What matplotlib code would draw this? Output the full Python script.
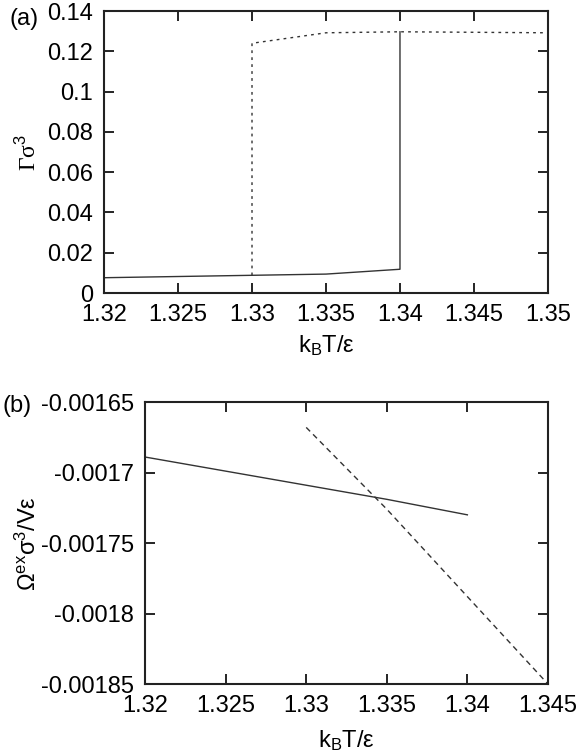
import matplotlib
matplotlib.use('Agg')
import matplotlib.pyplot as plt

plt.rcParams['font.family'] = ['Liberation Sans', 'DejaVu Sans']
plt.rcParams['mathtext.fontset'] = 'custom'
plt.rcParams['mathtext.rm'] = 'Liberation Sans'
plt.rcParams['mathtext.it'] = 'Liberation Sans'

FS = 17

# panel (a): adsorption vs temperature
t_a_solid = [1.32, 1.33, 1.335, 1.34, 1.34]
g_a_solid = [0.0076, 0.0088, 0.0094, 0.0118, 0.1297]
t_a_dash = [1.33, 1.33, 1.335, 1.34, 1.35]
g_a_dash = [0.0088, 0.124, 0.1292, 0.1297, 0.1292]

# panel (b): excess grand potential
t_b_solid = [1.32, 1.325, 1.33, 1.335, 1.34]
w_b_solid = [-0.001689, -0.001699, -0.001709, -0.001719, -0.00173]
t_b_dash = [1.33, 1.335, 1.34, 1.345]
w_b_dash = [-0.001668, -0.001726, -0.001788, -0.00185]

fig = plt.figure(figsize=(5.78, 7.56), dpi=100)

ax1 = fig.add_axes([0.180, 0.6124, 0.768, 0.373])
ax1.plot(t_a_solid, g_a_solid, color='#333333', lw=1.0)
ax1.plot(t_a_dash, g_a_dash, color='#333333', lw=1.0, ls=(0, (2, 3)))
ax1.set_xlim(1.32, 1.35)
ax1.set_ylim(0, 0.14)
ax1.set_xticks([1.32, 1.325, 1.33, 1.335, 1.34, 1.345, 1.35])
ax1.set_xticklabels(['1.32', '1.325', '1.33', '1.335', '1.34', '1.345', '1.35'])
ax1.set_yticks([0, 0.02, 0.04, 0.06, 0.08, 0.1, 0.12, 0.14])
ax1.set_yticklabels(['0', '0.02', '0.04', '0.06', '0.08', '0.1', '0.12', '0.14'])
ax1.set_xlabel(r'k$_\mathrm{B}$T/ε', fontsize=FS, labelpad=5)
ax1.set_ylabel('Γσ$^3$', fontsize=FS, family=['Liberation Serif', 'DejaVu Serif'], labelpad=4)

ax2 = fig.add_axes([0.251, 0.0952, 0.697, 0.373])
ax2.plot(t_b_solid, w_b_solid, color='#333333', lw=1.0)
ax2.plot(t_b_dash, w_b_dash, color='#333333', lw=1.0, ls=(0, (4, 3)))
ax2.set_xlim(1.32, 1.345)
ax2.set_ylim(-0.00185, -0.00165)
ax2.set_xticks([1.32, 1.325, 1.33, 1.335, 1.34, 1.345])
ax2.set_xticklabels(['1.32', '1.325', '1.33', '1.335', '1.34', '1.345'])
ax2.set_yticks([-0.00185, -0.0018, -0.00175, -0.0017, -0.00165])
ax2.set_yticklabels(['-0.00185', '-0.0018', '-0.00175', '-0.0017', '-0.00165'])
ax2.set_xlabel(r'k$_\mathrm{B}$T/ε', fontsize=FS, labelpad=8)
ax2.set_ylabel(r'Ω$^\mathrm{ex}$σ$^3$/Vε', fontsize=FS, labelpad=0)

for ax in (ax1, ax2):
    ax.tick_params(direction='in', length=7, width=1.2, top=True, right=True,
                   labelsize=FS, pad=8)
    for s in ax.spines.values():
        s.set_linewidth(1.5)
        s.set_color('#222222')

fig.text(0.017, 0.99, '(a)', fontsize=FS, va='top')
fig.text(0.005, 0.478, '(b)', fontsize=FS, va='top')

fig.savefig('out.png', dpi=100)
